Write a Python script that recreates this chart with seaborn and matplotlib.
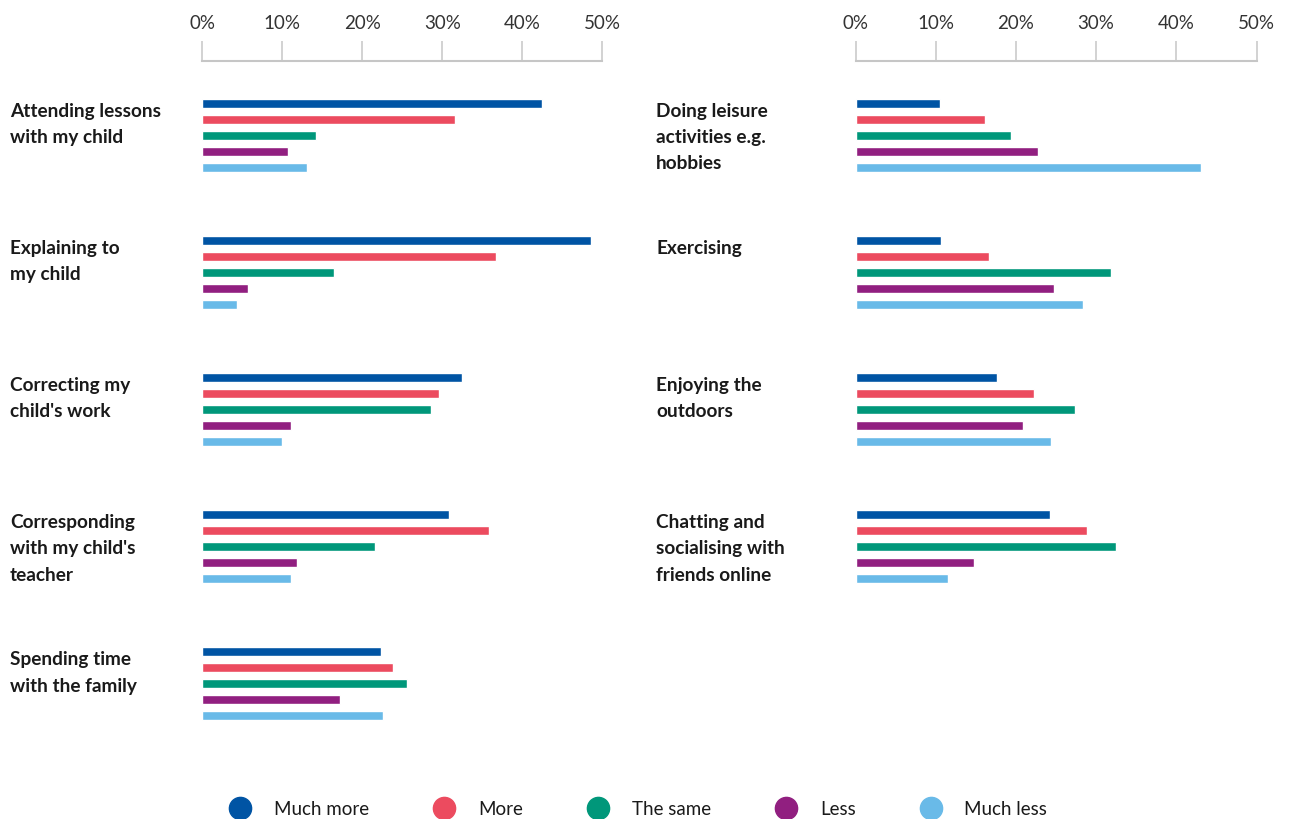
import pandas as pd
import matplotlib
matplotlib.use("Agg")
import matplotlib.pyplot as plt
import matplotlib.transforms as mtransforms
from matplotlib.lines import Line2D
from matplotlib.ticker import FixedLocator, PercentFormatter
import seaborn as sns

# Survey responses (share of parents, %)
responses = ["Much more", "More", "The same", "Less", "Much less"]
colors = ["#0054A4", "#EC4B5F", "#00977A", "#911F80", "#69BAE8"]

school_tasks = [
    "Attending lessons\nwith my child",
    "Explaining to\nmy child",
    "Correcting my\nchild's work",
    "Corresponding\nwith my child's\nteacher",
    "Spending time\nwith the family",
]
much_more_a = [42.5, 48.6, 32.5, 30.9, 22.4]
more_a = [31.6, 36.7, 29.6, 35.9, 23.9]
same_a = [14.2, 16.5, 28.6, 21.6, 25.6]
less_a = [10.7, 5.7, 11.1, 11.9, 17.2]
much_less_a = [13.1, 4.4, 10.0, 11.1, 22.6]

leisure = [
    "Doing leisure\nactivities e.g.\nhobbies",
    "Exercising",
    "Enjoying the\noutdoors",
    "Chatting and\nsocialising with\nfriends online",
]
much_more_b = [10.5, 10.7, 17.6, 24.2]
more_b = [16.1, 16.6, 22.2, 28.9]
same_b = [19.4, 31.8, 27.4, 32.5]
less_b = [22.7, 24.7, 20.9, 14.8]
much_less_b = [43.1, 28.3, 24.4, 11.5]

x_ticks = [0, 10, 20, 30, 40, 50]


def long_form(cats, series):
    rows = []
    for resp, vals in zip(responses, series):
        for c, v in zip(cats, vals):
            rows.append((c, resp, v))
    return pd.DataFrame(rows, columns=["activity", "response", "share"])


df_a = long_form(school_tasks, [much_more_a, more_a, same_a, less_a, much_less_a])
df_b = long_form(leisure, [much_more_b, more_b, same_b, less_b, much_less_b])

sns.set_style("white")
plt.rcParams["font.family"] = ["Lato", "DejaVu Sans"]

W, H = 1289, 820
fig = plt.figure(figsize=(W / 100, H / 100), dpi=100)
fig.patch.set_facecolor("white")


def axes_px(x0, x1, y0, y1):
    return fig.add_axes([x0 / W, 1 - y1 / H, (x1 - x0) / W, (y1 - y0) / H])


AX_TOP, AX_BOTTOM = 61.5, 760
GROUP0, PITCH = 136.5, 137.1
y_top = (AX_TOP - GROUP0) / PITCH
y_bottom = (AX_BOTTOM - GROUP0) / PITCH

ax_l = axes_px(202.0, 602.4, AX_TOP, AX_BOTTOM)
ax_r = axes_px(855.6, 1256.5, AX_TOP, AX_BOTTOM)

grey = "#c6c6c6"

for ax, df, cats, label_x in [(ax_l, df_a, school_tasks, 10), (ax_r, df_b, leisure, 656)]:
    sns.barplot(
        data=df, x="share", y="activity", hue="response",
        hue_order=responses, palette=colors, orient="h",
        width=0.584, gap=0.44, saturation=1, legend=False, ax=ax,
    )
    ax.set_xlim(0, 50)
    ax.set_ylim(y_bottom, y_top)
    for side in ["left", "right", "bottom"]:
        ax.spines[side].set_visible(False)
    ax.spines["top"].set_color(grey)
    ax.spines["top"].set_linewidth(1.5)
    ax.xaxis.tick_top()
    ax.xaxis.set_major_locator(FixedLocator(x_ticks))
    ax.xaxis.set_major_formatter(PercentFormatter(decimals=0))
    ax.tick_params(axis="x", direction="out", length=14.5, width=1.1,
                   color=grey, labelsize=13.5, labelcolor="#333333", pad=7)
    ax.tick_params(axis="y", left=False, labelleft=False)
    ax.set_xlabel("")
    ax.set_ylabel("")
    ax.grid(False)
    trans = mtransforms.blended_transform_factory(fig.transFigure, ax.transData)
    for i, name in enumerate(cats):
        ax.text(label_x / W, i - 0.245, name, transform=trans, ha="left", va="top",
                fontsize=13.7, fontweight="bold", color="#1a1a1a", linespacing=1.66)

handles = [Line2D([], [], marker="o", linestyle="", markersize=16,
                  markerfacecolor=c, markeredgecolor=c) for c in colors]
fig.legend(handles, responses, loc="center", bbox_to_anchor=(638 / W, 1 - 810 / H),
           ncol=5, frameon=False, fontsize=13.5, handlelength=1.2,
           handletextpad=1.21, columnspacing=3.4, labelcolor="#1a1a1a")

fig.savefig("out.png", dpi=100, facecolor="white")
